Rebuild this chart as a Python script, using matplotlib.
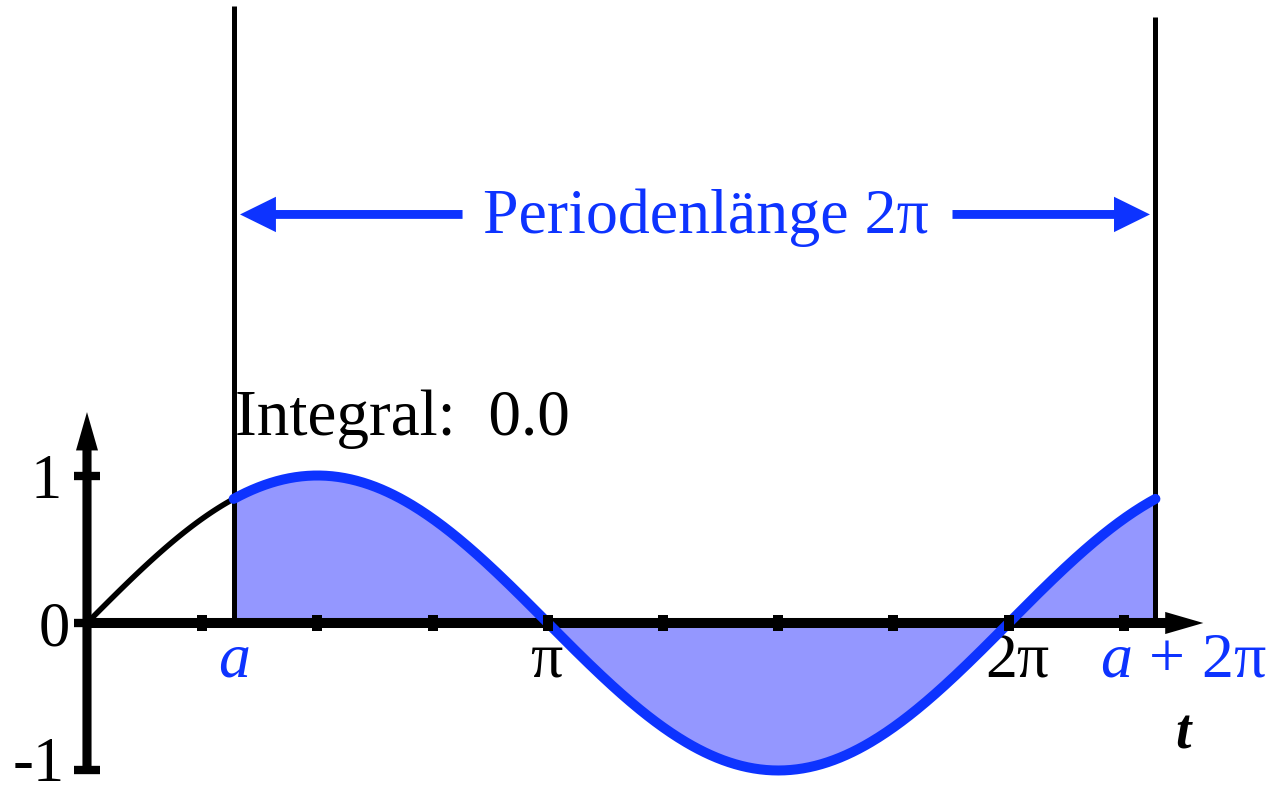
import numpy as np
import matplotlib
matplotlib.use("Agg")
import matplotlib.pyplot as plt

# --- values -------------------------------------------------------------
a_start = 1.0                      # left end of the integration window
period = 2 * np.pi                 # period length of sin
x_tick_values = np.arange(1, 10) * np.pi / 4   # small ticks on the t axis
y_tick_values = [-1, 0, 1]
y_tick_labels = ["-1", "0", "1"]
x_label_values = [a_start, np.pi, 2 * np.pi, a_start + period]
x_label_texts = ["$a$", "π", "2π", r"$a\,+\,\mathrm{2π}$"]
x_label_colors = ["blue", "black", "black", "blue"]
integral_text = "Integral:  0.0"
period_text = "Periodenlänge 2π"
axis_t_end = 7.61
axis_y_top = 1.43
window_top = [4.18, 4.11]

BLUE = "#0D33FF"
FILL = "#9497FF"
SERIF = "Liberation Serif"

plt.rcParams["mathtext.fontset"] = "custom"
plt.rcParams["mathtext.rm"] = SERIF
plt.rcParams["mathtext.it"] = SERIF + ":italic"

fig = plt.figure(figsize=(12.72, 7.96), dpi=100)
ax = fig.add_axes([0, 0, 1, 1])
ax.set_axis_off()
ax.set_xlim(-0.593, 8.078)
ax.set_ylim(-1.173, 4.224)

# curves
t_pre = np.linspace(0, a_start, 100)
t_win = np.linspace(a_start, a_start + period, 600)
ax.fill_between(t_win, 0, np.sin(t_win), color=FILL, lw=0, zorder=1)

# coordinate axes with arrow heads
ax.arrow(0, 0, axis_t_end, 0, width=0.068, head_width=0.15, head_length=0.26,
         length_includes_head=True, color="black", lw=0, zorder=3)
ax.arrow(0, -1, 0, axis_y_top + 1, width=0.062, head_width=0.15, head_length=0.26,
         length_includes_head=True, color="black", lw=0, zorder=3)

ax.plot(t_pre, np.sin(t_pre), color="black", lw=4.0, solid_capstyle="round", zorder=4)
ax.plot(t_win, np.sin(t_win), color=BLUE, lw=7.2, solid_capstyle="round", zorder=5)

# window borders
for xv, top in zip([a_start, a_start + period], window_top):
    ax.plot([xv, xv], [0.03, top], color="black", lw=3.6, solid_capstyle="butt", zorder=4.5)

# ticks
tick_marker = [(-0.33, -0.5), (0.33, -0.5), (0.33, 0.5), (-0.33, 0.5), (-0.33, -0.5)]
ax.plot(x_tick_values, np.zeros_like(x_tick_values), ls="none", marker=tick_marker,
        ms=11, color="black", mew=0, zorder=6)
for yv in y_tick_values:
    ax.plot([-0.09, 0.09], [yv, yv], color="black", lw=6, solid_capstyle="butt", zorder=3)

# tick labels ("-1" sits on the lower edge, so anchor it by its bottom)
ax.text(-0.15, -1.167, y_tick_labels[0], ha="right", va="bottom", fontsize=45,
        family=SERIF, color="black")
for yv, lab, dx, dy in zip(y_tick_values[1:], y_tick_labels[1:], [-0.12, -0.17], [-0.15, -0.15]):
    ax.text(dx, yv + dy, lab, ha="right", va="baseline", fontsize=45,
            family=SERIF, color="black")

offsets = [0.0, -0.01, 0.06, 0.19]
for xv, lab, col, dx in zip(x_label_values, x_label_texts, x_label_colors, offsets):
    ax.text(xv + dx, -0.36, lab, ha="center", va="baseline", fontsize=46,
            family=SERIF, color=BLUE if col == "blue" else "black")

ax.text(7.47, -0.85, "t", ha="center", va="baseline", fontsize=40, family=SERIF,
        style="italic", weight="bold", color="black")

# annotations
ax.text(a_start + 0.01, 1.275, integral_text, ha="left", va="baseline", fontsize=47,
        family=SERIF, color="black")

arrow_y = 2.77
ax.arrow(2.56, arrow_y, 1.043 - 2.56, 0, width=0.06, head_width=0.24, head_length=0.245,
         length_includes_head=True, color=BLUE, lw=0, zorder=5)
ax.arrow(5.90, arrow_y, 7.246 - 5.90, 0, width=0.06, head_width=0.24, head_length=0.245,
         length_includes_head=True, color=BLUE, lw=0, zorder=5)
ax.text(4.22, 2.644, period_text, ha="center", va="baseline", fontsize=46,
        family=SERIF, color=BLUE)

fig.savefig("out.png", dpi=100)
